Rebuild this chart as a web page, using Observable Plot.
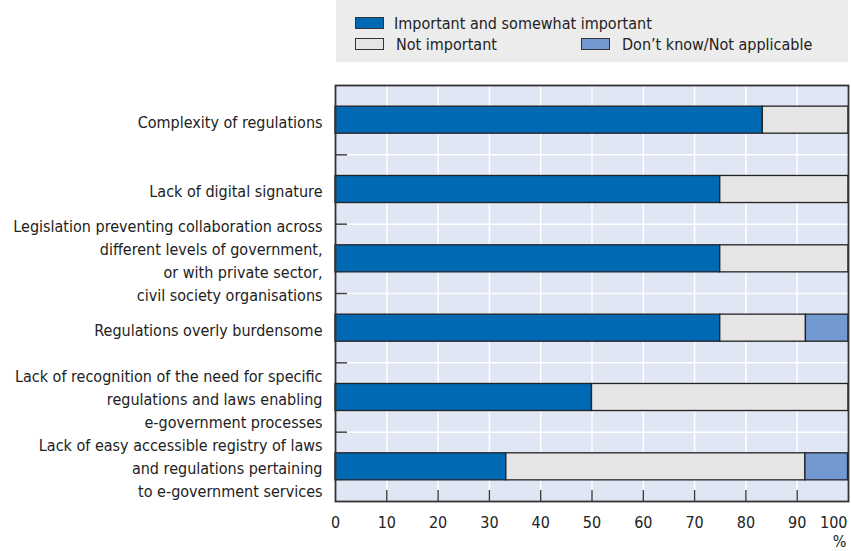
<!DOCTYPE html>
<html><head><meta charset="utf-8">
<script src="https://cdn.jsdelivr.net/npm/d3@7"></script>
<script src="https://cdn.jsdelivr.net/npm/@observablehq/plot@0.6"></script>
<style>
body{margin:0;background:#fff;font-family:"Liberation Sans Narrow","Arial Narrow","DejaVu Sans Condensed",sans-serif;}
#legend{position:relative;margin-left:336px;width:512px;height:62px;background:#ececec;font-size:16px;color:#222}
.sw{position:absolute;width:29px;height:12px;border:1px solid #333;box-sizing:border-box;}
.lt{position:absolute;line-height:20px;white-space:nowrap}
svg{display:block}
</style></head><body>
<div id="legend"></div>
<div id="chart"></div>
<script>
const categories = [
  "Complexity of regulations",
  "Lack of digital signature",
  "Legislation preventing collaboration across\ndifferent levels of government,\nor with private sector,\ncivil society organisations",
  "Regulations overly burdensome",
  "Lack of recognition of the need for specific\nregulations and laws enabling\ne-government processes",
  "Lack of easy accessible registry of laws\nand regulations pertaining\nto e-government services"
];
const important    = [83.3, 75, 75, 75, 50, 33.3];
const notImportant = [16.7, 25, 25, 16.7, 50, 58.3];
const dontKnow     = [0, 0, 0, 8.3, 0, 8.3];
const seriesNames  = ["Important and somewhat important", "Not important", "Don\u2019t know/Not applicable"];
const seriesColors = ["#0069b4", "#e5e5e5", "#7399d2"];
const xTicks = [0, 10, 20, 30, 40, 50, 60, 70, 80, 90, 100];
const unitLabel = "%";

const FONT = "'Liberation Sans Narrow','Arial Narrow','DejaVu Sans Condensed',sans-serif";
const FS = 16;
const barHalf = 0.195;
const seriesValues = [important, notImportant, dontKnow];

// legend (HTML, above the SVG)
const legendPos = [
  {sx: 19, sy: 17, tx: 58, ty: 14},
  {sx: 19, sy: 38, tx: 60, ty: 35},
  {sx: 245, sy: 38, tx: 286, ty: 35}
];
const leg = document.getElementById("legend");
seriesNames.forEach((name, i) => {
  const p = legendPos[i];
  const sw = document.createElement("div");
  sw.className = "sw";
  sw.style.left = p.sx + "px"; sw.style.top = p.sy + "px";
  sw.style.background = seriesColors[i];
  leg.appendChild(sw);
  const t = document.createElement("div");
  t.className = "lt";
  t.style.left = p.tx + "px"; t.style.top = p.ty + "px";
  t.textContent = name;
  leg.appendChild(t);
});

// rows for stacked bars
const rows = [];
categories.forEach((c, i) => {
  let acc = 0;
  seriesNames.forEach((s, j) => {
    const v = seriesValues[j][i];
    if (v > 0) rows.push({cat: c, idx: i, series: s, x1: acc, x2: acc + v});
    acc += v;
  });
});
const separators = d3.range(1, categories.length);

const chart = Plot.plot({
  width: 851, height: 489,
  marginTop: 23, marginBottom: 50, marginLeft: 335, marginRight: 3,
  x: {domain: [0, 100], axis: null},
  y: {domain: [0, categories.length], reverse: true, axis: null},
  color: {domain: seriesNames, range: seriesColors},
  style: {fontFamily: FONT, color: "#222", background: "white"},
  marks: [
    Plot.frame({fill: "#e0e6f4"}),
    Plot.ruleX(xTicks.slice(1, -1), {x: d => d, stroke: "white", strokeWidth: 1.5}),
    Plot.ruleY(separators, {y: d => d, stroke: "white", strokeWidth: 1.5}),
    Plot.rect(rows, {
      x1: "x1", x2: "x2",
      y1: d => d.idx + 0.5 - barHalf, y2: d => d.idx + 0.5 + barHalf,
      fill: "series", stroke: "#222", strokeWidth: 1.3
    }),
    Plot.ruleY(separators, {y: d => d, stroke: "#444", strokeWidth: 1.5, insetRight: 501}),
    Plot.ruleX(xTicks.slice(1, -1), {x: d => d, stroke: "#333", strokeWidth: 1.3, insetTop: 405}),
    Plot.frame({stroke: "#333", strokeWidth: 1.8}),
    Plot.text(categories, {
      x: () => 0, y: (d, i) => i + 0.5, text: d => d,
      textAnchor: "end", lineAnchor: "middle", dx: -13,
      fontSize: FS, lineHeight: 23 / FS, fill: "#222"
    }),
    Plot.text(xTicks.slice(0, -1), {
      x: d => d, frameAnchor: "bottom", text: d => String(d),
      dy: 21, lineAnchor: "middle", fontSize: FS, fill: "#222"
    }),
    Plot.text(xTicks.slice(-1), {
      x: d => d, frameAnchor: "bottom", text: d => String(d),
      dy: 21, dx: -1, textAnchor: "end", lineAnchor: "middle", fontSize: FS, fill: "#222"
    }),
    Plot.text([unitLabel], {
      x: () => 100, frameAnchor: "bottom", text: d => d,
      dy: 40, dx: -2, textAnchor: "end", lineAnchor: "middle", fontSize: FS, fill: "#222"
    })
  ]
});
document.getElementById("chart").appendChild(chart);
</script>
</body></html>
